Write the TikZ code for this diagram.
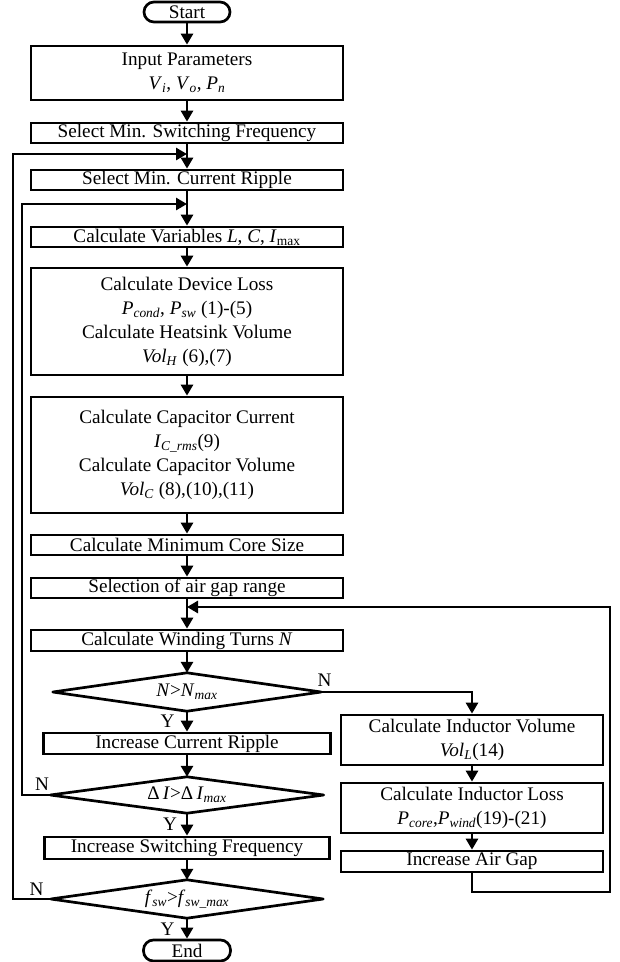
\documentclass[tikz,border=0pt]{standalone}
\usepackage{fontspec}
\setmainfont{Liberation Serif}
\usetikzlibrary{arrows.meta}
\newcommand{\vsb}[2]{\textit{#1}\textsubscript{\textit{#2}}}
\begin{document}
\begin{tikzpicture}[x=1pt,y=-1pt,
  every node/.style={font=\fontsize{19.2}{24}\selectfont},
  box/.style={draw, line width=2.7pt, rectangle, inner sep=0pt, align=center},
  term/.style={box, rounded corners=10pt},
  dia/.style={inner sep=0pt, align=center},
  lbl/.style={inner sep=0pt},
  line/.style={line width=2.7pt},
  arr/.style={line, -{Triangle[length=11pt,width=12pt]}},
  diaout/.style={line, line join=round}
]
\useasboundingbox (0,0) rectangle (620,962);

% main column
\node[term, minimum width=86pt, minimum height=20pt] (start) at (187,12) {Start};
\node[box, minimum width=312pt, minimum height=54pt] (inp) at (187,73) {Input Parameters\\ \vsb{V}{i}, \vsb{V}{o}, \vsb{P}{n}};
\node[box, minimum width=312pt, minimum height=20pt] (sw) at (187,133) {Select Min. Switching Frequency};
\node[box, minimum width=312pt, minimum height=20pt] (rip) at (187,180) {Select Min. Current Ripple};
\node[box, minimum width=312pt, minimum height=20pt] (var) at (187,237) {Calculate Variables \textit{L}, \textit{C}, \textit{I}\textsubscript{max}};
\node[box, minimum width=312pt, minimum height=107pt] (dev) at (187,321.5) {Calculate Device Loss\\ \vsb{P}{cond}, \vsb{P}{sw} (1)-(5)\\ Calculate Heatsink Volume\\ \vsb{Vol}{H} (6),(7)};
\node[box, minimum width=312pt, minimum height=116pt] (cap) at (187,455) {Calculate Capacitor Current\\ \vsb{I}{C\_rms}(9)\\ Calculate Capacitor Volume\\ \vsb{Vol}{C} (8),(10),(11)};
\node[box, minimum width=312pt, minimum height=20pt] (core) at (187,545) {Calculate Minimum Core Size};
\node[box, minimum width=312pt, minimum height=20pt] (gap) at (187,588) {Selection of air gap range};
\node[box, minimum width=312pt, minimum height=21pt] (wind) at (187,640.5) {Calculate Winding Turns \textit{N}};
\node[dia, minimum width=268pt, minimum height=38pt] (d1) at (187,692) {\textit{N}>\vsb{N}{max}};
\node[box, minimum width=287pt, minimum height=21pt] (icr) at (187,743.5) {Increase Current Ripple};
\node[dia, minimum width=273pt, minimum height=36pt] (d2) at (187,795) {Δ\,\textit{I}>Δ\,\vsb{I}{max}};
\node[box, minimum width=285pt, minimum height=22pt] (isf) at (187,848) {Increase Switching Frequency};
\node[dia, minimum width=272pt, minimum height=38pt] (d3) at (187,899) {\vsb{f}{sw}>\vsb{f}{sw\_max}};
\node[term, minimum width=87pt, minimum height=21pt] (end) at (187,950.5) {End};

% right column
\node[box, minimum width=262pt, minimum height=50pt] (indv) at (472,740) {Calculate Inductor Volume\\ \vsb{Vol}{L}(14)};
\node[box, minimum width=262pt, minimum height=50pt] (indl) at (472,808) {Calculate Inductor Loss\\ \vsb{P}{core},\vsb{P}{wind}(19)-(21)};
\node[box, minimum width=262pt, minimum height=21pt] (iag) at (472,861.5) {Increase Air Gap};

% diamond outlines
\foreach \d in {d1,d2,d3}
  \draw[diaout] (\d.north) -- (\d.east) -- (\d.south) -- (\d.west) -- cycle;

% junction coordinates
\coordinate (j1) at (187,154);
\coordinate (j2) at (187,204);
\coordinate (j3) at (187,607);
\coordinate (o1) at (13,154);
\coordinate (o2) at (22,204);
\coordinate (r1) at (610,892);
\coordinate (r2) at (610,607);

% main flow
\draw[arr] (start) -- (inp);
\draw[arr] (inp) -- (sw);
\draw[arr] (sw) -- (rip);
\draw[arr] (rip) -- (var);
\draw[arr] (var) -- (dev);
\draw[arr] (dev) -- (cap);
\draw[arr] (cap) -- (core);
\draw[arr] (core) -- (gap);
\draw[arr] (gap) -- (wind);
\draw[arr] (wind) -- (d1.north);
\draw[arr] (d1.south) -- (icr);
\draw[arr] (icr) -- (d2.north);
\draw[arr] (d2.south) -- (isf);
\draw[arr] (isf) -- (d3.north);
\draw[arr] (d3.south) -- (end);

% right branch
\draw[arr] (d1.east) -| (indv.north);
\draw[arr] (indv) -- (indl);
\draw[arr] (indl) -- (iag);
\draw[arr] (iag.south) |- (r1) -- (r2) -- (j3);

% loops
\draw[arr] (d3.west) -| (o1) -- (j1);
\draw[arr] (d2.west) -| (o2) -- (j2);

% labels
\node[lbl] (n1) at (324.5,680.5) {N};
\node[lbl] (y1) at (167.5,721.5) {Y};
\node[lbl] (n2) at (42,784.5) {N};
\node[lbl] (y2) at (170,824) {Y};
\node[lbl] (n3) at (36.5,889) {N};
\node[lbl] (y3) at (167.5,929) {Y};
\end{tikzpicture}
\end{document}
